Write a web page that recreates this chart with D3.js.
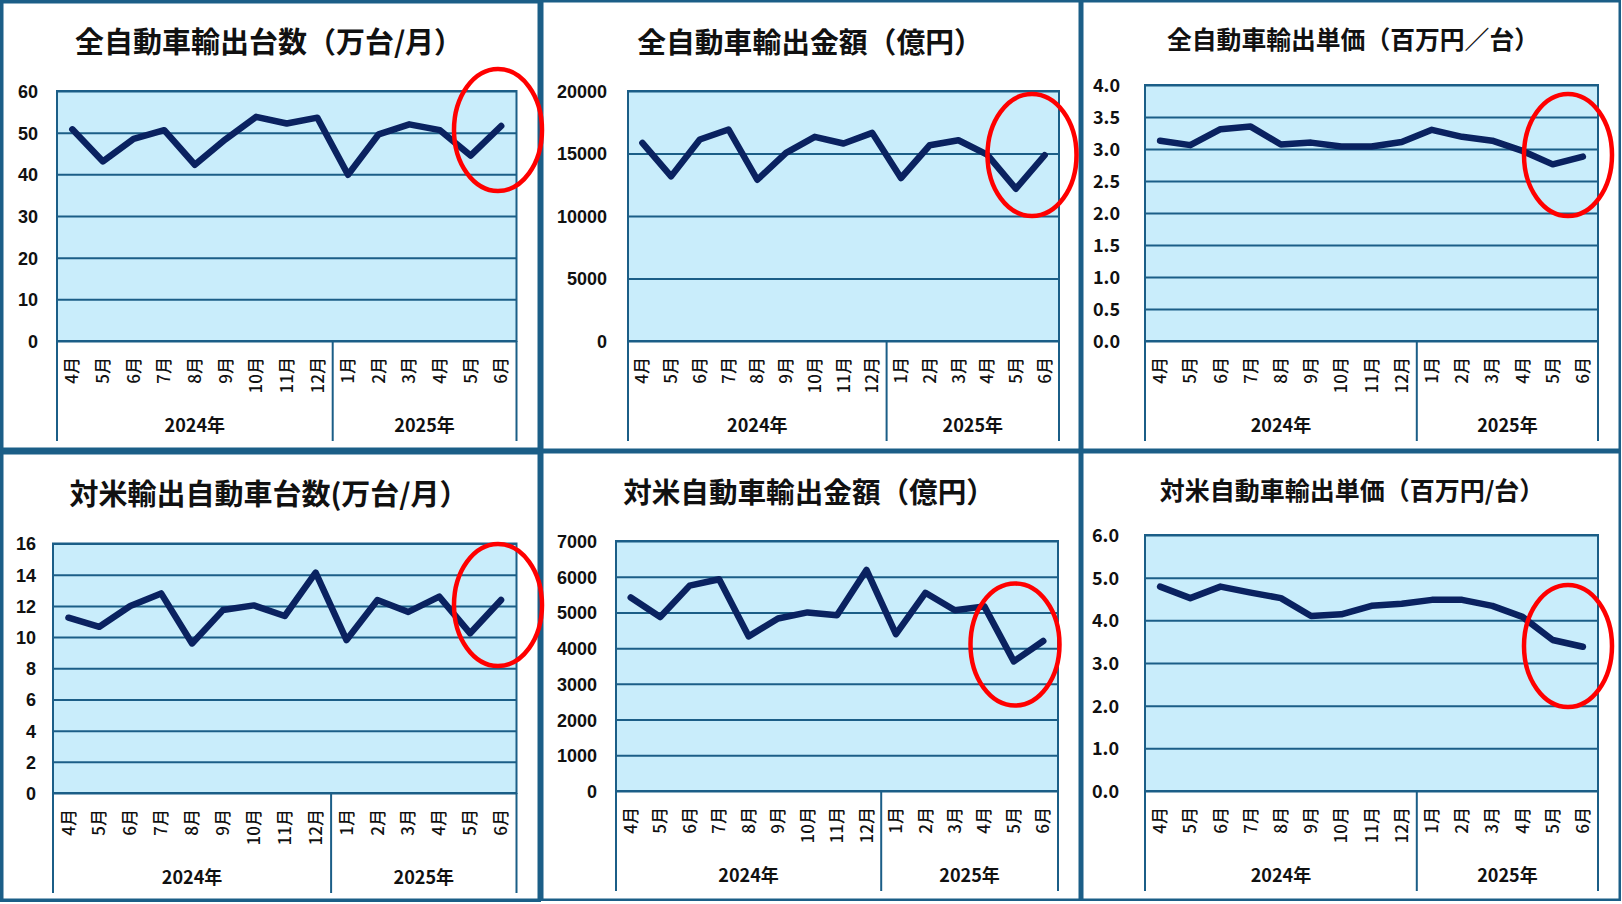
<!DOCTYPE html>
<html><head><meta charset="utf-8">
<script src="https://cdn.jsdelivr.net/npm/d3@7"></script>
<style>body{margin:0;background:#fff;} svg{display:block}</style>
</head><body><svg id="c" width="1622" height="904"></svg>
<script>
// ---- data ----
const months = ["4月","5月","6月","7月","8月","9月","10月","11月","12月","1月","2月","3月","4月","5月","6月"];
const yearLabels = ["2024年","2025年"];
const yearMonthCounts = [9, 6];

const allUnits = [50.8,43.1,48.5,50.6,42.3,48.4,53.8,52.2,53.6,39.9,49.6,52.0,50.6,44.5,51.6];
const allValue = [15850,13170,16120,16920,12900,15050,16330,15800,16650,13040,15660,16060,14910,12180,14860];
const allPrice = [3.13,3.06,3.31,3.35,3.07,3.10,3.04,3.04,3.11,3.30,3.19,3.13,2.97,2.76,2.88];
const usUnits = [11.24,10.66,11.99,12.80,9.59,11.73,12.03,11.35,14.13,9.81,12.38,11.61,12.59,10.24,12.38];
const usValue = [5420,4870,5750,5930,4330,4830,5000,4920,6190,4390,5550,5060,5170,3630,4200];
const usPrice = [4.79,4.52,4.79,4.65,4.52,4.10,4.14,4.34,4.39,4.48,4.48,4.34,4.08,3.54,3.38];

const ticksAllUnits = [0,10,20,30,40,50,60];
const ticksAllValue = [0,5000,10000,15000,20000];
const ticksAllPrice = [0,0.5,1.0,1.5,2.0,2.5,3.0,3.5,4.0];
const ticksUsUnits = [0,2,4,6,8,10,12,14,16];
const ticksUsValue = [0,1000,2000,3000,4000,5000,6000,7000];
const ticksUsPrice = [0,1,2,3,4,5,6];

const titles = [
  "全自動車輸出台数（万台/月）",
  "全自動車輸出金額（億円）",
  "全自動車輸出単価（百万円／台）",
  "対米輸出自動車台数(万台/月）",
  "対米自動車輸出金額（億円）",
  "対米自動車輸出単価（百万円/台）"
];

// ---- style / layout ----
const BLUE = "#1b5e87", FILL = "#c9edfb", LINE = "#0a2260";
const fmtInt = d3.format("d"), fmt1 = d3.format(".1f");
const latinFont = "'Liberation Sans', Arial, sans-serif";
const cjkFont = "'Noto Sans CJK JP', 'Noto Sans', sans-serif";

const panels = [
  {ox:0,   oy:0,   w:541, h:451, bw:3.5, l:57, r:516.5, t:91, b:341, data:allUnits, ticks:ticksAllUnits, fmt:fmtInt, lx:38, tf:latinFont,
   title:titles[0], tx:269, ty:40, ts:29, ell:[498,130,44,61]},
  {ox:541, oy:0,   w:540, h:451, bw:2.5, l:87, r:518, t:91, b:341, data:allValue, ticks:ticksAllValue, fmt:fmtInt, lx:66, tf:latinFont,
   title:titles[1], tx:269, ty:40, ts:28.8, ell:[1032,155,44.5,61]},
  {ox:1081,oy:0,   w:540, h:451, bw:2.5, l:64, r:517, t:85, b:341, data:allPrice, ticks:ticksAllPrice, fmt:fmt1, lx:39, tf:cjkFont,
   title:titles[2], tx:272, ty:38, ts:24.8, ell:[1568,155,44,61]},
  {ox:0,   oy:451, w:541, h:451, bw:3.5, l:53, r:516.5, t:92.5, b:342, data:usUnits, ticks:ticksUsUnits, fmt:fmtInt, lx:36, tf:latinFont,
   title:titles[3], tx:269, ty:41, ts:29, ell:[498,605,44,61]},
  {ox:541, oy:451, w:540, h:450, bw:2.5, l:75, r:517, t:90, b:340, data:usValue, ticks:ticksUsValue, fmt:fmtInt, lx:56, tf:latinFont,
   title:titles[4], tx:268, ty:39.5, ts:28.6, ell:[1015,644.5,44.5,61]},
  {ox:1081,oy:451, w:540, h:450, bw:2.5, l:64, r:517, t:84, b:340, data:usPrice, ticks:ticksUsPrice, fmt:fmt1, lx:38, tf:cjkFont,
   title:titles[5], tx:271, ty:37.6, ts:25, ell:[1568,646,44,61]}
];

const svg = d3.select("#c");
svg.append("rect").attr("width",1622).attr("height",904).attr("fill","#fff");

panels.forEach(p => {
  const g = svg.append("g").attr("transform", `translate(${p.ox},${p.oy})`);
  // panel border
  g.append("rect").attr("x", p.bw/2).attr("y", p.bw/2)
    .attr("width", p.w - p.bw).attr("height", p.h - p.bw)
    .attr("fill", "#fff").attr("stroke", BLUE).attr("stroke-width", p.bw);

  const x = d3.scaleBand().domain(d3.range(months.length)).range([p.l, p.r]).paddingInner(0).paddingOuter(0);
  const y = d3.scaleLinear().domain([p.ticks[0], p.ticks[p.ticks.length-1]]).range([p.b, p.t]);

  // plot area
  g.append("rect").attr("x", p.l).attr("y", p.t).attr("width", p.r - p.l).attr("height", p.b - p.t)
    .attr("fill", FILL);

  // gridlines
  const grid = g.append("g").attr("transform", `translate(${p.l},0)`)
    .call(d3.axisLeft(y).tickValues(p.ticks).tickSize(-(p.r - p.l)).tickFormat(""));
  grid.select(".domain").remove();
  grid.selectAll("line").attr("stroke", BLUE).attr("stroke-width", 2);

  // plot border
  g.append("rect").attr("x", p.l).attr("y", p.t).attr("width", p.r - p.l).attr("height", p.b - p.t)
    .attr("fill", "none").attr("stroke", BLUE).attr("stroke-width", 2);

  // y labels
  const ya = g.append("g").attr("transform", `translate(${p.lx},0)`)
    .call(d3.axisLeft(y).tickValues(p.ticks).tickSize(0).tickPadding(0).tickFormat(p.fmt));
  ya.select(".domain").remove();
  ya.selectAll("text").attr("font-family", p.tf).attr("font-size", 18).attr("font-weight", "bold")
    .attr("fill", "#111").attr("dy", "0.36em");

  // x month labels
  const xa = g.append("g").attr("transform", `translate(0,${p.b})`)
    .call(d3.axisBottom(x).tickSize(0).tickFormat(i => months[i]));
  xa.select(".domain").remove();
  xa.selectAll("text").attr("transform", "rotate(-90)").attr("x", -16).attr("y", 0).attr("dy", "0.36em")
    .style("text-anchor", "end").attr("font-family", cjkFont).attr("font-size", 17).attr("font-weight", 500).attr("fill", "#111");

  // year groups
  let start = 0;
  const bounds = [p.l];
  yearMonthCounts.forEach(n => { start += n; bounds.push(start >= months.length ? p.r : x(start)); });
  bounds.forEach(bx => {
    g.append("line").attr("x1", bx).attr("x2", bx).attr("y1", p.b).attr("y2", p.b + 100)
      .attr("stroke", BLUE).attr("stroke-width", 2);
  });
  yearLabels.forEach((lab, i) => {
    g.append("text").attr("x", (bounds[i] + bounds[i+1]) / 2).attr("y", p.b + 82.5)
      .attr("dominant-baseline", "central").attr("text-anchor", "middle")
      .attr("font-family", cjkFont).attr("font-size", 18).attr("font-weight", "bold").attr("fill", "#111")
      .text(lab);
  });

  // data line
  const line = d3.line().x((d, i) => x(i) + x.bandwidth()/2).y(d => y(d));
  g.append("path").datum(p.data).attr("d", line).attr("fill", "none")
    .attr("stroke", LINE).attr("stroke-width", 6.5).attr("stroke-linejoin", "round").attr("stroke-linecap", "round");

  // title
  g.append("text").attr("x", p.tx).attr("y", p.ty).attr("text-anchor", "middle").attr("dominant-baseline", "central")
    .attr("font-family", cjkFont).attr("font-size", p.ts).attr("font-weight", "bold").attr("fill", "#111")
    .text(p.title);
});

// red highlight ellipses
panels.forEach(p => {
  svg.append("ellipse").attr("cx", p.ell[0]).attr("cy", p.ell[1]).attr("rx", p.ell[2]).attr("ry", p.ell[3])
    .attr("fill", "none").attr("stroke", "#ff0000").attr("stroke-width", 4.5);
});
</script></body></html>
